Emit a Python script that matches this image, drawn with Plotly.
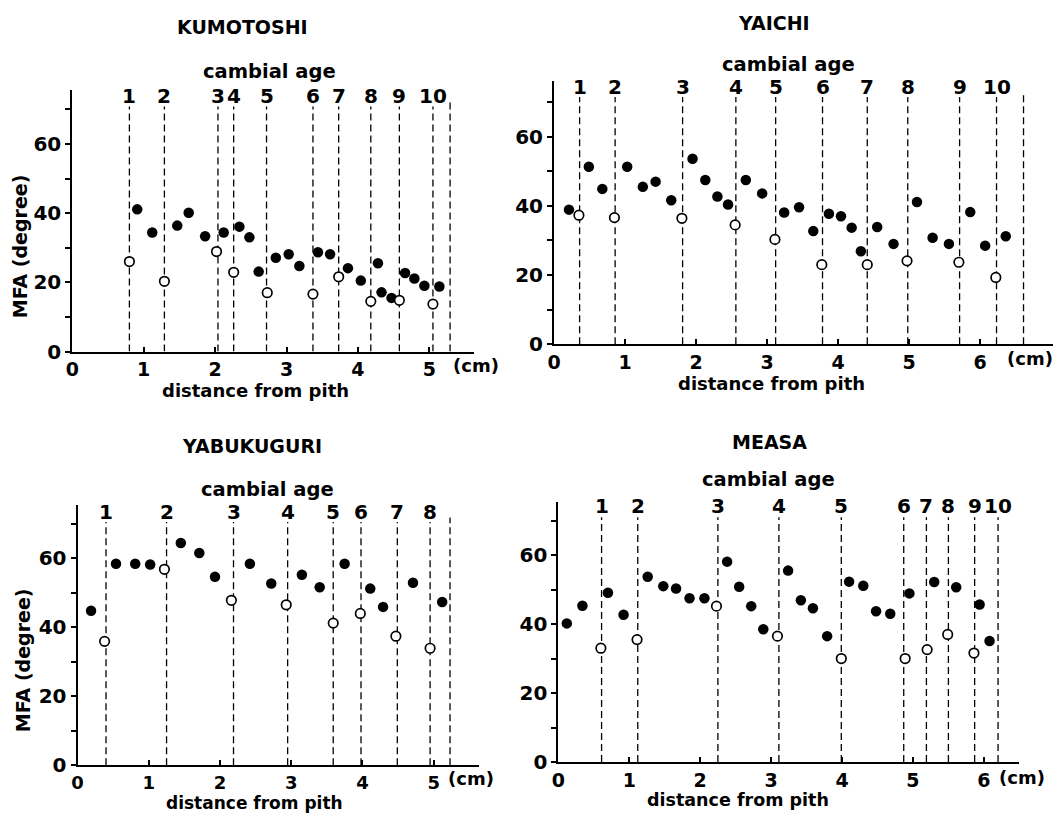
import plotly.graph_objects as go

W, H = 1054, 824
FONT = "DejaVu Sans"

# ---------------- data ----------------
# KUMOTOSHI
k_fill_x = [0.91, 1.12, 1.47, 1.63, 1.86, 2.12, 2.34, 2.48, 2.61, 2.85, 3.03, 3.18, 3.44, 3.61, 3.86, 4.04, 4.28, 4.33, 4.47, 4.66, 4.79, 4.93, 5.14]
k_fill_y = [41.1, 34.4, 36.4, 40.1, 33.3, 34.4, 36.1, 33.0, 23.1, 27.1, 28.1, 24.7, 28.7, 28.1, 24.1, 20.5, 25.5, 17.1, 15.5, 22.7, 21.1, 19.0, 18.8]
k_open_x = [0.80, 1.29, 2.02, 2.26, 2.73, 3.37, 3.73, 4.18, 4.58, 5.05]
k_open_y = [26.0, 20.3, 28.9, 22.9, 17.0, 16.6, 21.6, 14.5, 14.8, 13.7]
k_rings = [0.80, 1.29, 2.04, 2.26, 2.72, 3.37, 3.73, 4.18, 4.58, 5.05, 5.29]
k_ring_labels = ["1", "2", "3", "4", "5", "6", "7", "8", "9", "10", ""]

# YAICHI
y_fill_x = [0.21, 0.49, 0.68, 1.03, 1.25, 1.43, 1.65, 1.95, 2.13, 2.30, 2.45, 2.70, 2.93, 3.24, 3.45, 3.65, 3.87, 4.04, 4.19, 4.32, 4.55, 4.78, 5.11, 5.33, 5.56, 5.86, 6.07, 6.36]
y_fill_y = [38.9, 51.3, 44.9, 51.3, 45.5, 47.0, 41.6, 53.6, 47.5, 42.7, 40.4, 47.5, 43.6, 38.1, 39.6, 32.7, 37.7, 37.0, 33.7, 26.9, 33.9, 29.0, 41.1, 30.8, 29.0, 38.2, 28.5, 31.2]
y_open_x = [0.35, 0.85, 1.80, 2.55, 3.11, 3.77, 4.41, 4.97, 5.70, 6.22]
y_open_y = [37.3, 36.6, 36.4, 34.5, 30.3, 23.0, 23.0, 24.1, 23.7, 19.3]
y_rings = [0.36, 0.86, 1.81, 2.56, 3.12, 3.78, 4.41, 4.98, 5.71, 6.23, 6.61]
y_ring_labels = ["1", "2", "3", "4", "5", "6", "7", "8", "9", "10", ""]

# YABUKUGURI
b_fill_x = [0.19, 0.54, 0.81, 1.02, 1.45, 1.71, 1.93, 2.42, 2.72, 3.15, 3.40, 3.75, 4.11, 4.29, 4.71, 5.12]
b_fill_y = [44.8, 58.4, 58.4, 58.2, 64.4, 61.5, 54.6, 58.4, 52.7, 55.2, 51.6, 58.4, 51.2, 45.9, 52.9, 47.3]
b_open_x = [0.38, 1.22, 2.16, 2.93, 3.59, 3.97, 4.47, 4.95]
b_open_y = [35.9, 56.8, 47.8, 46.5, 41.2, 44.0, 37.4, 33.9]
b_rings = [0.40, 1.25, 2.19, 2.95, 3.59, 3.98, 4.49, 4.95, 5.23]
b_ring_labels = ["1", "2", "3", "4", "5", "6", "7", "8", ""]

# MEASA
m_fill_x = [0.12, 0.34, 0.70, 0.92, 1.26, 1.48, 1.66, 1.85, 2.06, 2.38, 2.55, 2.72, 2.89, 3.24, 3.42, 3.59, 3.79, 4.10, 4.30, 4.48, 4.68, 4.95, 5.30, 5.61, 5.94, 6.08]
m_fill_y = [40.2, 45.3, 49.1, 42.7, 53.7, 51.0, 50.3, 47.5, 47.5, 58.1, 50.8, 45.2, 38.5, 55.5, 46.9, 44.6, 36.5, 52.3, 51.1, 43.7, 43.0, 48.9, 52.2, 50.7, 45.7, 35.1]
m_open_x = [0.60, 1.11, 2.23, 3.09, 3.99, 4.89, 5.20, 5.49, 5.86]
m_open_y = [33.0, 35.5, 45.2, 36.5, 30.0, 30.0, 32.6, 37.0, 31.6]
m_rings = [0.61, 1.12, 2.25, 3.11, 3.99, 4.87, 5.19, 5.50, 5.87, 6.20]
m_ring_labels = ["1", "2", "3", "4", "5", "6", "7", "8", "9", "10"]

y_tick_vals = [0, 20, 40, 60]
y_minor_vals = [10, 30, 50, 70]

# ---------------- layout helpers ----------------
def px(x, y):
    return x / W, 1 - y / H

panels = [
    dict(name="KUMOTOSHI", fx=k_fill_x, fy=k_fill_y, ox=k_open_x, oy=k_open_y, rings=k_rings, labels=k_ring_labels,
         x0=65.7, y0=356.7, xmax=5.62, ymax=75.5, pxcm=71.9, pu=3.51, nt=6,
         title=(237, 27), camb=(264, 73), xt=(250, 396), cm=(472, 371), yt=(13, 250), top=70.8, ly=74.0,
         xts=18, xtf=19),
    dict(name="YAICHI", fx=y_fill_x, fy=y_fill_y, ox=y_open_x, oy=y_open_y, rings=y_rings, labels=y_ring_labels,
         x0=550.7, y0=349.3, xmax=7.03, ymax=76.0, pxcm=71.5, pu=3.51, nt=7,
         title=(772, 23), camb=(787, 65), xt=(770, 389), cm=(1030, 364), yt=None, top=71.5, ly=74.4,
         xts=18, xtf=19),
    dict(name="YABUKUGURI", fx=b_fill_x, fy=b_fill_y, ox=b_open_x, oy=b_open_y, rings=b_rings, labels=b_ring_labels,
         x0=71.0, y0=776.5, xmax=5.64, ymax=75.5, pxcm=71.7, pu=3.5, nt=6,
         title=(247, 453), camb=(262, 497), xt=(249, 815), cm=(467, 790), yt=(16, 670), top=70.5, ly=73.3,
         xts=17, xtf=18),
    dict(name="MEASA", fx=m_fill_x, fy=m_fill_y, ox=m_open_x, oy=m_open_y, rings=m_rings, labels=m_ring_labels,
         x0=555.0, y0=773.3, xmax=6.49, ymax=75.4, pxcm=71.4, pu=3.5, nt=7,
         title=(768, 449), camb=(767, 487), xt=(736, 812), cm=(1022, 789), yt=None, top=71.0, ly=74.3,
         xts=17.5, xtf=19),
]

fig = go.Figure()
annotations = []
layout_axes = {}

for i, p in enumerate(panels):
    n = "" if i == 0 else str(i + 1)
    xa, ya = "x" + n, "y" + n
    left, bottom = p["x0"], p["y0"]
    right = left + p["xmax"] * p["pxcm"]
    top = bottom - p["ymax"] * p["pu"]

    # dashed ring-boundary lines
    lx, ly = [], []
    for j, r in enumerate(p["rings"]):
        t = p["top"] if p["labels"][j] else p["top"] + 1.3
        lx += [r, r, None]
        ly += [0, t, None]
    fig.add_trace(go.Scatter(x=lx, y=ly, mode="lines", xaxis=xa, yaxis=ya,
                             line=dict(color="black", width=1.3, dash="7px,4px"),
                             showlegend=False, hoverinfo="skip", cliponaxis=False))
    # filled points
    fig.add_trace(go.Scatter(x=p["fx"], y=p["fy"], mode="markers", xaxis=xa, yaxis=ya,
                             marker=dict(symbol="circle", size=10.5, color="black"),
                             showlegend=False))
    # open points (on ring boundaries)
    fig.add_trace(go.Scatter(x=p["ox"], y=p["oy"], mode="markers", xaxis=xa, yaxis=ya,
                             marker=dict(symbol="circle", size=9.5, color="white",
                                         line=dict(color="black", width=1.7)),
                             showlegend=False))

    layout_axes["xaxis" + n] = dict(
        domain=[left / W, right / W], anchor=ya, range=[0, p["xmax"]],
        showline=True, linecolor="black", linewidth=2, showgrid=False, zeroline=False,
        tickvals=list(range(p["nt"])), ticktext=[str(v) for v in range(p["nt"])],
        ticks="inside", ticklen=5, tickwidth=1.5, tickcolor="black",
        tickfont=dict(family=FONT, size=p["xtf"], color="black", weight="bold"),
    )
    layout_axes["yaxis" + n] = dict(
        domain=[1 - bottom / H, 1 - top / H], anchor=xa, range=[0, p["ymax"]],
        showline=True, linecolor="black", linewidth=2, showgrid=False, zeroline=False,
        tickvals=y_tick_vals, ticktext=[str(v) for v in y_tick_vals],
        ticks="outside", ticklen=5, tickwidth=1.5, tickcolor="black",
        minor=dict(tickvals=y_minor_vals, ticks="outside", ticklen=5, tickwidth=1.5, tickcolor="black", showgrid=False),
        tickfont=dict(family=FONT, size=20, color="black", weight="bold"),
    )

    # ring (cambial age) labels
    for j, r in enumerate(p["rings"]):
        if p["labels"][j]:
            annotations.append(dict(x=r, y=p["ly"], xref=xa, yref=ya, text=p["labels"][j],
                                    showarrow=False, xanchor="center", yanchor="middle",
                                    font=dict(family=FONT, size=20, color="black", weight="bold")))

    def add_text(pos, text, size, angle=0):
        xp, yp = px(*pos)
        annotations.append(dict(x=xp, y=yp, xref="paper", yref="paper", text=text, showarrow=False,
                                xanchor="center", yanchor="middle", textangle=angle,
                                font=dict(family=FONT, size=size, color="black", weight="bold")))

    add_text(p["title"], p["name"], 19)
    add_text(p["camb"], "cambial age", 19.5)
    add_text(p["xt"], "distance from pith", p["xts"])
    add_text(p["cm"], "(cm)", 18)
    if p["yt"]:
        add_text(p["yt"], "MFA (degree)", 19, angle=-90)

fig.update_layout(
    width=W, height=H, autosize=False,
    margin=dict(l=0, r=0, t=0, b=0),
    paper_bgcolor="white", plot_bgcolor="rgba(0,0,0,0)",
    annotations=annotations,
    **layout_axes,
)

fig.write_html("out.html", config={"displayModeBar": False},
               post_script="document.body.style.margin='0';document.body.style.overflow='hidden';")
